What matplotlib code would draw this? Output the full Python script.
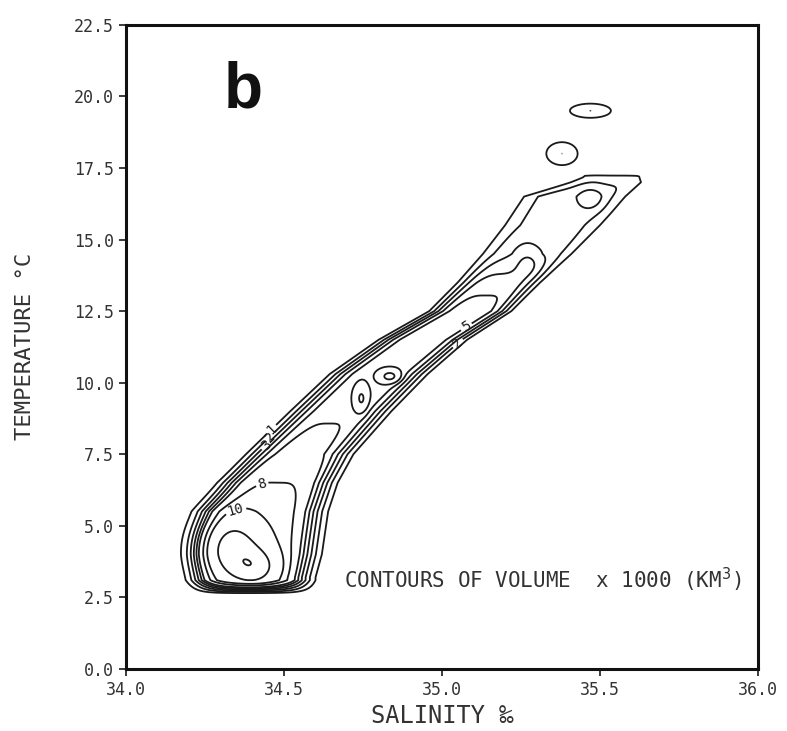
import numpy as np
import matplotlib.pyplot as plt

# ridge of the T-S volume distribution, read row by row in temperature
ridge_T = [2.6, 3.2, 4.0, 5.5, 6.5, 7.5, 9.0, 10.3, 11.5, 12.5, 13.5, 14.5, 15.5, 16.5, 17.0, 17.35]
ridge_center = [34.40, 34.40, 34.41, 34.43, 34.48, 34.55, 34.68, 34.80, 34.94, 35.09, 35.18, 35.27, 35.35, 35.42, 35.52, 35.56]
ridge_halfwidth = [0.20, 0.20, 0.21, 0.21, 0.19, 0.17, 0.16, 0.155, 0.14, 0.13, 0.13, 0.14, 0.15, 0.16, 0.11, 0.06]
ridge_peak = [9.0, 9.0, 9.0, 9.0, 8.0, 6.5, 5.8, 5.8, 5.7, 5.6, 4.5, 2.8, 2.4, 2.6, 1.8, 0.6]
floor_T = 2.6   # lowest temperature class of the data

# local maxima (salinity, temperature, volume, spread in S, spread in T)
blob_S = [34.33, 34.41, 34.835, 34.745, 35.47, 35.27, 35.38, 35.47]
blob_T = [4.2, 3.55, 10.22, 9.45, 16.45, 14.3, 18.0, 19.5]
blob_amp = [9.0, 7.0, 3.0, 2.5, 1.2, 1.0, 2.0, 2.0]
blob_wS = [0.07, 0.05, 0.022, 0.014, 0.03, 0.03, 0.042, 0.055]
blob_wT = [0.75, 0.45, 0.15, 0.3, 0.3, 0.4, 0.34, 0.21]

levels = [1, 2, 3, 4, 5, 6, 8, 10, 15, 20]
# contour labels: (level, salinity, temperature)
label_lev = [1, 2, 3, 8, 10, 2, 5]
label_S = [34.44, 34.465, 34.49, 34.43, 34.35, 35.06, 35.08]
label_T = [8.6, 8.0, 7.3, 6.5, 5.45, 11.25, 11.9]

S = np.linspace(34.0, 36.0, 801)
T = np.linspace(0.0, 22.5, 901)
SS, TT = np.meshgrid(S, T)

c = np.interp(TT, ridge_T, ridge_center)
h = np.interp(TT, ridge_T, ridge_halfwidth)
p = np.interp(TT, ridge_T, ridge_peak, left=0, right=0)
u = np.abs(SS - c) / h
V = p * np.exp(-np.log(np.maximum(p, 1.05)) * u**4)
for s0, t0, a, ws, wt in zip(blob_S, blob_T, blob_amp, blob_wS, blob_wT):
    V += a * np.exp(-0.5*((SS - s0)/ws)**2 - 0.5*((TT - t0)/wt)**2)
V *= np.clip((TT - floor_T) / 0.5, 0, 1)

fig = plt.figure(figsize=(7.87, 7.31), dpi=100)
ax = fig.add_axes([0.160, 0.085, 0.803, 0.881])

# one contour set per level so each label lands on its own line
for lev in levels:
    cs = ax.contour(SS, TT, V, levels=[lev], colors='#1a1a1a', linewidths=1.3)
    pos = [(s0, t0) for l, s0, t0 in zip(label_lev, label_S, label_T) if l == lev]
    if pos:
        lbl = ax.clabel(cs, manual=pos, fmt='%d', fontsize=10, inline=True, inline_spacing=2)
        for t in lbl:
            t.set_family('DejaVu Sans Mono')
            t.set_color('#1a1a1a')

ax.set_xlim(34.0, 36.0)
ax.set_ylim(0.0, 22.5)
ax.set_xticks([34.0, 34.5, 35.0, 35.5, 36.0])
ax.set_yticks(np.arange(0, 22.6, 2.5))
ax.xaxis.set_major_formatter(plt.FormatStrFormatter('%.1f'))
ax.yaxis.set_major_formatter(plt.FormatStrFormatter('%.1f'))
ax.tick_params(direction='out', length=5, width=1.2, labelsize=12, colors='#1a1a1a', labelcolor='#333333')
for t in ax.get_xticklabels() + ax.get_yticklabels():
    t.set_family('DejaVu Sans Mono')
for sp in ax.spines.values():
    sp.set_linewidth(2.2)
    sp.set_color('#111111')

ax.set_xlabel('SALINITY ‰', fontsize=17, family='DejaVu Sans Mono', color='#333333', labelpad=4)
ax.set_ylabel('TEMPERATURE °C', fontsize=16, family='DejaVu Sans Mono', color='#333333', labelpad=28)

ax.text(34.31, 19.6, 'b', fontsize=46, fontweight='bold', family='Liberation Sans', color='#111111')
ax.text(34.69, 3.1, 'CONTOURS OF VOLUME  x 1000 (KM$^3$)', fontsize=15, family='DejaVu Sans Mono',
        color='#333333', va='center')

plt.savefig('out.png', dpi=100)
